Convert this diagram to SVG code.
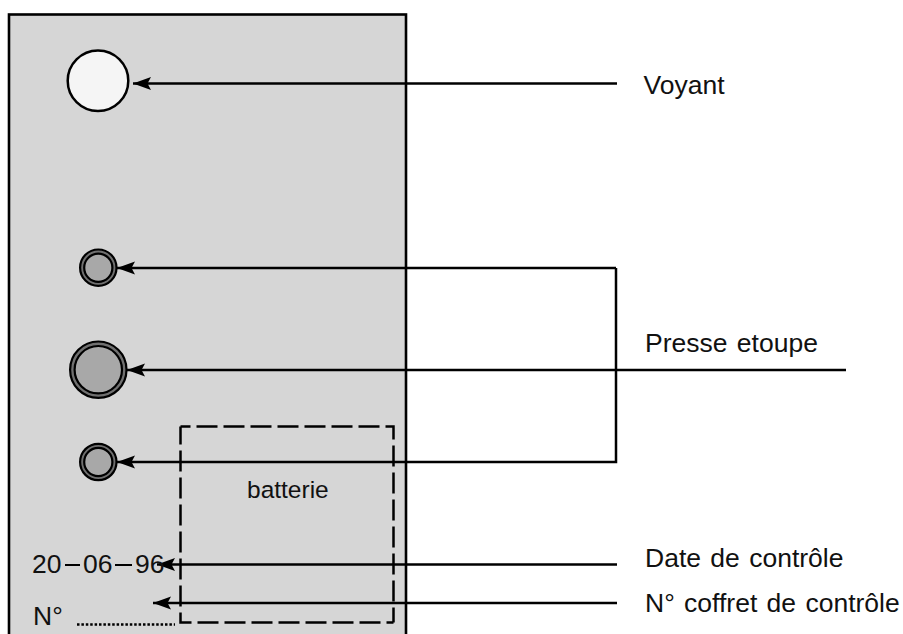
<svg xmlns="http://www.w3.org/2000/svg" width="903" height="634" viewBox="0 0 903 634">
<style>
text{font-family:"Liberation Sans",Arial,sans-serif;font-size:26.500px;fill:#111;word-spacing:2px}
.c{fill:none;stroke:#000;stroke-width:2.500}
.d{fill:none;stroke:#000;stroke-width:2.500;stroke-dasharray:21 6}
.r1{fill:#707070;stroke:#000;stroke-width:2.200}
.r2{fill:#a8a8a8;stroke:#000;stroke-width:2.200}
</style>
<defs><marker id="a" markerUnits="userSpaceOnUse" markerWidth="20" markerHeight="16" refX="18" refY="8" orient="auto"><path d="M18 8L0 1.500L3.500 8L0 14.500Z" fill="#000"/></marker></defs>
<rect id="coffret" x="9" y="14.500" width="397" height="630" fill="#d6d6d6" stroke="#000" stroke-width="2.600"/>
<g id="voyant"><circle cx="98" cy="80.700" r="30.300" fill="#f5f5f5" stroke="#000" stroke-width="2.500"/></g>
<g id="pe1"><circle cx="98.300" cy="267.700" r="18.200" class="r1"/><circle cx="98.300" cy="267.700" r="14.100" class="r2"/></g>
<g id="pe2"><circle cx="98.300" cy="369.700" r="28.200" class="r1"/><circle cx="98.300" cy="369.700" r="23.700" class="r2"/></g>
<g id="pe3"><circle cx="98.300" cy="462" r="18.200" class="r1"/><circle cx="98.300" cy="462" r="14.100" class="r2"/></g>
<g id="batterie"><path class="d" stroke-dashoffset="11" d="M180.500 426.500H393.500V622.500"/><path class="d" stroke-dashoffset="3" d="M180.500 426.500V622.500H393.500"/><text x="247" y="498" style="font-size:24.500px">batterie</text></g>
<g id="connectors">
<path class="c" d="M617 83.500H133" marker-end="url(#a)"/>
<path class="c" d="M616 268H117" marker-end="url(#a)"/>
<path class="c" d="M846 370H127" marker-end="url(#a)"/>
<path class="c" d="M616 268V462H117" marker-end="url(#a)"/>
<path class="c" d="M617 564.500H157" marker-end="url(#a)"/>
<path class="c" d="M617 603H153" marker-end="url(#a)"/>
</g>
<g id="labels">
<text x="643.500" y="93.500">Voyant</text>
<text x="645" y="351.500">Presse etoupe</text>
<text x="645" y="566.500">Date de contrôle</text>
<text x="645" y="611.500">N° coffret de contrôle</text>
<text x="32" y="572.700">20</text><path class="c" d="M65 565H80" style="stroke-width:2"/>
<text x="83" y="572.700">06</text><path class="c" d="M115 565H132" style="stroke-width:2"/>
<text x="135" y="572.700">96</text>
<text x="33" y="625">N°</text>
<path d="M77 624.500H175" fill="none" stroke="#000" stroke-width="2.500" stroke-dasharray="2.500 1.900"/>
</g>
</svg>
